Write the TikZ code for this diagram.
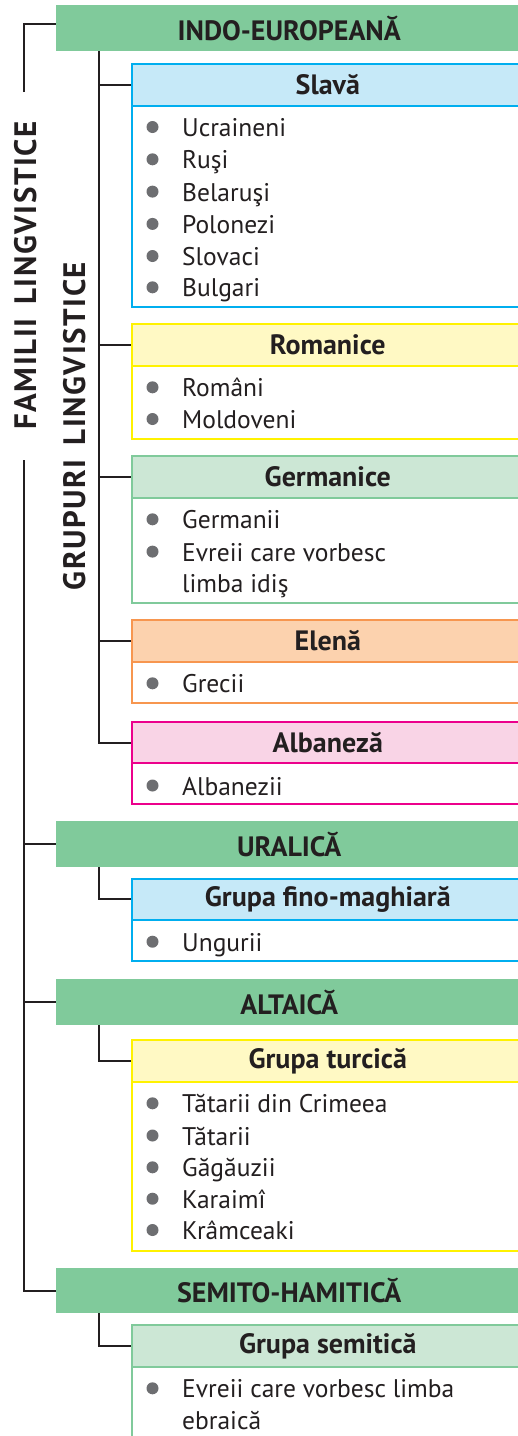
\documentclass[tikz,border=0pt]{standalone}
\usepackage{fontspec}
\setmainfont{PT Sans}
\usetikzlibrary{calc}
\definecolor{txtc}{RGB}{35,31,32}
\definecolor{linec}{RGB}{35,31,32}
\definecolor{bulc}{RGB}{109,110,113}
\definecolor{famgreen}{RGB}{128,202,155}
\definecolor{slavf}{RGB}{198,233,248}\definecolor{slavd}{RGB}{0,174,239}
\definecolor{romf}{RGB}{255,249,196}\definecolor{romd}{RGB}{255,242,0}
\definecolor{gerf}{RGB}{204,231,213}\definecolor{gerd}{RGB}{128,202,155}
\definecolor{elef}{RGB}{252,210,174}\definecolor{eled}{RGB}{247,150,79}
\definecolor{albf}{RGB}{249,212,230}\definecolor{albd}{RGB}{236,0,140}
\newcommand\itemfont{\fontsize{25.5}{31.5}\selectfont}
\newcommand\hdrfont{\bfseries\fontsize{28}{32}\selectfont}
\newcommand\rotfont{\bfseries\fontsize{31}{36}\selectfont\addfontfeature{LetterSpace=5}}
\tikzset{
  conn/.style={draw=linec, line width=2pt},
  fam/.style={fill=famgreen, anchor=north west, minimum width=466pt, minimum height=46pt, inner sep=0pt, font=\hdrfont, text=txtc},
  hdr/.style={draw=#1d, fill=#1f, line width=1.6pt, anchor=north west, minimum width=392pt, minimum height=42pt, inner sep=0pt, font=\hdrfont, text=txtc},
  bodybox/.style={draw=#1d, fill=white, line width=1.6pt, anchor=north west, minimum width=392pt, inner sep=0pt},
  item/.style={anchor=base west, inner sep=0pt, font=\itemfont, text=txtc},
  bul/.style={circle, fill=bulc, inner sep=0pt, minimum size=12pt},
  rot/.style={rotate=90, anchor=base, inner sep=0pt, font=\rotfont, text=txtc},
}
\newcommand\lingitem[3]{%
  \node[bul] (#1b) at (152.5,#2) {};
  \node[item] (#1) at (182,{#2+9.5}) {#3};}
\begin{document}
\begin{tikzpicture}[x=1pt,y=-1pt]
\useasboundingbox (0,0) rectangle (518,1436);
\clip (0,0) rectangle (518,1436);
% rotated labels
\node[rot] (famlabel) at (36,275.5) {FAMILII\hspace{14pt}LINGVISTICE};
\node[rot] (grplabel) at (85,426) {GRUPURI\hspace{14pt}LINGVISTICE};
% families
\node[fam] (indo) at (56,5) {INDO-EUROPEANĂ};
\node[fam] (ural) at (56,821) {URALICĂ};
\node[fam] (alt) at (56,979) {ALTAICĂ};
\node[fam, minimum height=45pt] (semh) at (56,1268) {SEMITO-HAMITICĂ};
% groups
\node[hdr=slav] (slava) at (131,63) {Slavă};
\node[bodybox=slav, minimum height=201pt] (slavab) at (131,105) {};
\lingitem{s1}{127}{Ucraineni}
\lingitem{s2}{159.3}{Ruşi}
\lingitem{s3}{191.6}{Belaruşi}
\lingitem{s4}{223.9}{Polonezi}
\lingitem{s5}{256}{Slovaci}
\lingitem{s6}{287.3}{Bulgari}
\node[hdr=rom] (rom) at (131,323) {Romanice};
\node[bodybox=rom, minimum height=73pt] (romb) at (131,365) {};
\lingitem{r1}{387.3}{Români}
\lingitem{r2}{419}{Moldoveni}
\node[hdr=ger] (ger) at (131,455) {Germanice};
\node[bodybox=ger, minimum height=105pt] (gerb) at (131,497) {};
\lingitem{g1}{519.3}{Germanii}
\lingitem{g2}{551.6}{\parbox[t]{320pt}{\raggedright\baselineskip=31.5pt Evreii care vorbesc\\limba idiş}}
\node[hdr=ele] (ele) at (131,619) {Elenă};
\node[bodybox=ele, minimum height=41pt] (eleb) at (131,661) {};
\lingitem{e1}{683.3}{Grecii}
\node[hdr=alb] (alb) at (131,721) {Albaneză};
\node[bodybox=alb, minimum height=41pt] (albb) at (131,762) {};
\lingitem{a1}{785.5}{Albanezii}
\node[hdr=slav, minimum height=41pt] (fino) at (131,878) {Grupa fino-maghiară};
\node[bodybox=slav, minimum height=41pt] (finob) at (131,919) {};
\lingitem{f1}{941.7}{Ungurii}
\node[hdr=rom] (turc) at (131,1039) {Grupa turcică};
\node[bodybox=rom, minimum height=169pt] (turcb) at (131,1081) {};
\lingitem{t1}{1103.3}{Tătarii din Crimeea}
\lingitem{t2}{1135.5}{Tătarii}
\lingitem{t3}{1167.3}{Găgăuzii}
\lingitem{t4}{1198.7}{Karaimî}
\lingitem{t5}{1230}{Krâmceaki}
\node[hdr=ger] (semg) at (131,1324) {Grupa semitică};
\node[bodybox=ger, minimum height=90pt] (semgb) at (131,1366) {};
\lingitem{m1}{1388.3}{\parbox[t]{320pt}{\raggedright\baselineskip=31.5pt Evreii care vorbesc limba\\ebraică}}
% family trunk
\coordinate (ftop) at (24,92);
\coordinate (fbot) at (24,460);
\draw[conn] (ftop) |- ([yshift=4pt]indo.west);
\draw[conn] (fbot) |- (semh.west);
\draw[conn] (fbot |- ural.west) -- (ural.west);
\draw[conn] (fbot |- alt.west) -- (alt.west);
% indo-european trunk
\draw[conn] ([xshift=43pt]indo.south west) |- (alb.west);
\draw[conn] ([xshift=43pt]indo.south west |- slava.west) -- (slava.west);
\draw[conn] ([xshift=43pt]indo.south west |- rom.west) -- (rom.west);
\draw[conn] ([xshift=43pt]indo.south west |- ger.west) -- (ger.west);
\draw[conn] ([xshift=43pt]indo.south west |- ele.west) -- (ele.west);
% sub connectors
\draw[conn] ([xshift=43pt]ural.south west) |- (fino.west);
\draw[conn] ([xshift=43pt]alt.south west) |- (turc.west);
\draw[conn] ([xshift=43pt]semh.south west) |- (semg.west);
\end{tikzpicture}
\end{document}
